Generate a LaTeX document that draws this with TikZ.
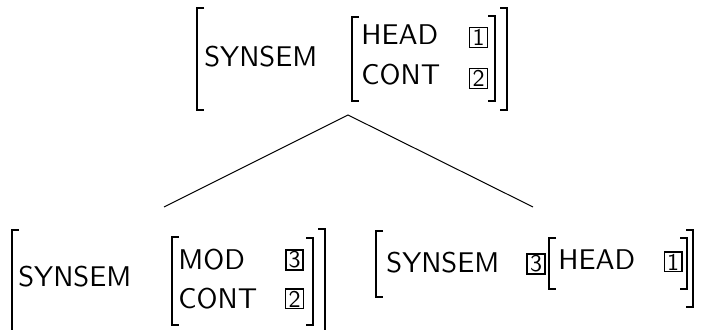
\documentclass[tikz,border=0pt]{standalone}
\usepackage{fontspec}
\newfontfamily\avmfont[Extension=.otf]{lmsans10-regular}
\begin{document}
\begin{tikzpicture}[x=0.5pt,y=-0.5pt,
  feat/.style={font=\fontsize{14.25}{17}\avmfont, inner sep=0pt, anchor=base west},
  tag/.style={draw, line width=0.7pt, minimum width=8.8pt, minimum height=9.8pt,
              inner sep=0pt, font=\fontsize{12}{13}\avmfont},
  tagbold/.style={tag, line width=1.1pt},
  brk/.style={line width=1pt, line join=miter},
  branch/.style={line width=0.5pt}]
\useasboundingbox (0,0) rectangle (701,330);

% left and right brackets: x, top, bottom
\newcommand\lbrk[3]{\draw[brk] (#1+7,#2) -- (#1,#2) -- (#1,#3) -- (#1+7,#3);}
\newcommand\rbrk[3]{\draw[brk] (#1-7,#2) -- (#1,#2) -- (#1,#3) -- (#1-7,#3);}

% mother AVM
\lbrk{197}{8}{110}
\rbrk{507}{8}{110}
\lbrk{352}{17}{101}
\rbrk{495}{16}{101}
\node[feat] (m-synsem) at (204,67) {SYNSEM};
\node[feat] (m-head) at (361,45) {HEAD};
\node[feat] (m-cont) at (361,85) {CONT};
\node[tag] (m-t1) at (478.5,37.5) {1};
\node[tag] (m-t2) at (478.5,78.5) {2};

% left daughter AVM
\lbrk{12}{230}{336}
\rbrk{325}{229}{336}
\lbrk{172}{237}{325}
\rbrk{313}{238}{325}
\node[feat] (l-synsem) at (18,287) {SYNSEM};
\node[feat] (l-mod) at (178,270) {MOD};
\node[feat] (l-cont) at (178,309) {CONT};
\node[tagbold] (l-t3) at (294.5,260) {3};
\node[tag] (l-t2) at (294.5,299) {2};

% right daughter AVM
\lbrk{376}{231}{297}
\rbrk{693}{230}{307}
\lbrk{549}{238}{289}
\rbrk{687}{238}{289}
\node[feat] (r-synsem) at (386,273) {SYNSEM};
\node[tagbold] (r-t3) at (536,264) {3};
\node[feat] (r-head) at (558,270) {HEAD};
\node[tag] (r-t1) at (673,262) {1};

% tree branches
\coordinate (apex) at (348,115);
\coordinate (foot-l) at (164,207);
\coordinate (foot-r) at (533,207);
\draw[branch] (foot-l) -- (apex) -- (foot-r);
\end{tikzpicture}
\end{document}
